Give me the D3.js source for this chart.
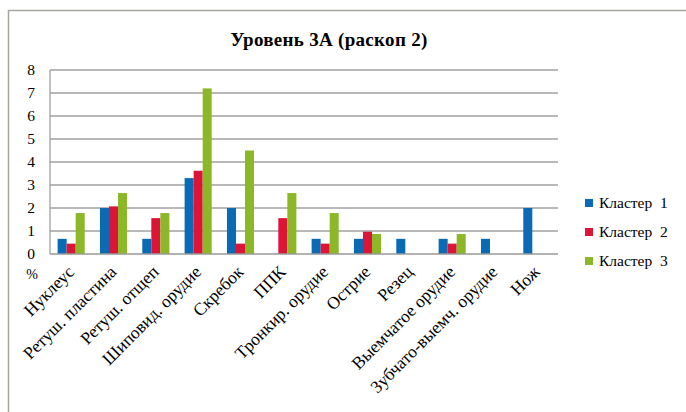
<!DOCTYPE html>
<html><head><meta charset="utf-8">
<script src="https://cdn.jsdelivr.net/npm/d3@7"></script>
<style>body{margin:0;background:#fff}svg{display:block}</style>
</head><body>
<script>
const categories = ["Нуклеус","Ретуш. пластина","Ретуш. отщеп","Шиповид. орудие","Скребок","ППК","Тронкир. орудие","Острие","Резец","Выемчатое орудие","Зубчато-выемч. орудие","Нож"];
const seriesNames = ["Кластер  1","Кластер  2","Кластер  3"];
const cluster1 = [0.66,2.0,0.66,3.3,2.0,0,0.66,0.66,0.66,0.66,0.66,2.0];
const cluster2 = [0.45,2.07,1.56,3.62,0.45,1.56,0.45,0.97,0,0.45,0,0];
const cluster3 = [1.78,2.65,1.78,7.2,4.5,2.65,1.78,0.87,0,0.87,0,0];
const yTicks = [0,1,2,3,4,5,6,7,8];
const colors = ["#0a6ab4","#dc1438","#8cb828"];
const series = [cluster1,cluster2,cluster3];

const W=686,H=412;
const svg=d3.select("body").append("svg").attr("width",W).attr("height",H);
const serif='Liberation Serif, DejaVu Serif, serif';

svg.append("path").attr("d","M8.5,412 V10.5 H686").attr("fill","none").attr("stroke","#a3a69c").attr("stroke-width",1.5);

const x0=d3.scaleBand().domain(categories).range([50,558]).paddingInner(0.36).paddingOuter(0.18);
const x1=d3.scaleBand().domain([0,1,2]).range([0,x0.bandwidth()]);
const y=d3.scaleLinear().domain([0,8]).range([254,70]);

svg.append("g").selectAll("line").data(yTicks.filter(d=>d>0)).join("line")
  .attr("x1",50).attr("x2",558).attr("y1",d=>y(d)).attr("y2",d=>y(d))
  .attr("stroke","#a0a0a0").attr("stroke-width",1.3);

const g=svg.append("g");
categories.forEach((c,i)=>{
  series.forEach((s,k)=>{
    if(s[i]>0) g.append("rect").attr("x",x0(c)+x1(k)).attr("width",x1.bandwidth())
      .attr("y",y(s[i])).attr("height",y(0)-y(s[i])).attr("fill",colors[k]);
  });
});

svg.append("line").attr("x1",50).attr("x2",558).attr("y1",y(0)).attr("y2",y(0)).attr("stroke","#999").attr("stroke-width",1.6);
svg.append("line").attr("x1",50).attr("x2",50).attr("y1",y(8)).attr("y2",y(0)).attr("stroke","#a0a0a0").attr("stroke-width",1.3);

const yAxis=d3.axisLeft(y).tickValues(yTicks).tickSize(0).tickPadding(15).tickFormat(d3.format("d"));
const ya=svg.append("g").attr("transform","translate(50,0)").call(yAxis)
  .attr("font-family",serif).attr("font-size",15.5);
ya.select(".domain").remove();
ya.selectAll("text").attr("fill","#000");

svg.append("text").attr("x",32).attr("y",279).attr("text-anchor","middle").attr("font-family",serif).attr("font-size",14).text("%");

const xAxis=d3.axisBottom(x0).tickSize(0).tickPadding(0);
const xa=svg.append("g").attr("transform","translate(0,"+y(0)+")").call(xAxis)
  .attr("font-family",serif).attr("font-size",17.5);
xa.select(".domain").remove();
xa.selectAll(".tick text").attr("fill","#000")
  .attr("text-anchor","end").attr("dy",0).attr("y",0)
  .attr("transform","translate(4,19) rotate(-45)");

svg.append("text").attr("x",329).attr("y",46).attr("text-anchor","middle").attr("font-family",serif)
  .attr("font-weight","bold").attr("font-size",19).attr("letter-spacing",0.3).text("Уровень 3А (раскоп 2)");

const lg=svg.append("g").attr("font-family",serif).attr("font-size",15.5);
seriesNames.forEach((n,k)=>{
  const yy=203+k*29;
  lg.append("rect").attr("x",585).attr("y",yy-4).attr("width",8).attr("height",8).attr("fill",colors[k]);
  lg.append("text").attr("x",599).attr("y",yy+5).style("white-space","pre").text(n);
});
</script>
</body></html>
